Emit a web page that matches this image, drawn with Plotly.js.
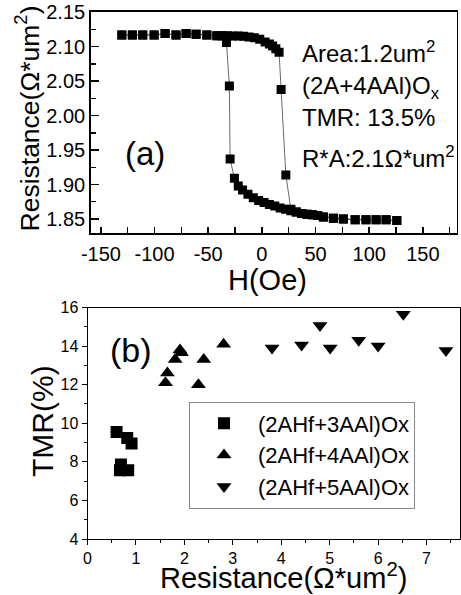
<!DOCTYPE html>
<html>
<head>
<meta charset="utf-8">
<script src="https://cdn.plot.ly/plotly-3.0.1.min.js"></script>
<style>html,body{margin:0;padding:0;background:#fff;}#chart{width:461px;height:595px;}</style>
</head>
<body>
<div id="chart"></div>
<script>
// ---- Panel (a): R-H loop, field increasing ----
var hUp = [-130.5,-120.7,-111,-100.4,-90.2,-80,-70.6,-61.3,-51.3,-42,-37,-32,-27,-22,-17,-12,-7,-2,3,7,10,13,16,17.9,22.3,27,32,37,42,47,52,57.3,66.6,75.9,86.9,97,106.4,115.7,125.7];
var rUp = [2.117,2.117,2.117,2.117,2.119,2.117,2.119,2.118,2.117,2.116,2.116,2.116,2.1155,2.1155,2.115,2.114,2.113,2.111,2.107,2.104,2.101,2.097,2.092,2.038,1.914,1.864,1.860,1.858,1.857,1.856,1.855,1.853,1.851,1.850,1.849,1.849,1.849,1.849,1.848];
// ---- Panel (a): field decreasing ----
var hDown = [125.7,115.7,106.4,97,86.9,75.9,66.6,57.3,52,47,42,37,32,27,22,17,12,7,2,-3,-8,-13,-18,-22,-25.6,-29.6,-30.3,-33,-37,-42,-51.3,-61.3,-70.6,-80,-90.2,-100.4,-111,-120.7,-130.5];
var rDown = [1.848,1.849,1.849,1.849,1.849,1.850,1.851,1.853,1.855,1.856,1.857,1.858,1.860,1.862,1.864,1.866,1.869,1.871,1.874,1.877,1.881,1.886,1.892,1.898,1.909,1.937,2.043,2.106,2.116,2.116,2.117,2.118,2.119,2.117,2.119,2.117,2.117,2.117,2.117];

// ---- Panel (b): TMR vs resistance ----
var seriesNames = ['(2AHf+3AAl)Ox','(2AHf+4AAl)Ox','(2AHf+5AAl)Ox'];
var res3 = [0.60,0.82,0.91,0.69,0.67,0.84];
var tmr3 = [9.55,9.24,8.95,7.86,7.57,7.57];
var res4 = [1.61,1.65,1.81,1.91,1.94,2.29,2.40,2.81];
var tmr4 = [12.1,12.6,13.3,13.8,13.65,12.0,13.3,14.1];
var res5 = [3.81,4.42,4.80,5.01,5.60,6.00,6.52,7.40];
var tmr5 = [13.9,14.05,15.07,13.9,14.3,14.0,15.65,13.77];

// tick labels / texts
var xTicksA = [-150,-100,-50,0,50,100,150];
var yTicksB = [4,6,8,10,12,14,16];

var W = 461, H = 595;
function px(x){return x/W;}
function py(y){return 1 - y/H;}
var FONT = 'Liberation Sans, Arial, Helvetica, sans-serif';

var lineA = {color:'#444', width:0.8};
var traces = [
  {x:hUp, y:rUp, xaxis:'x', yaxis:'y', mode:'lines+markers', showlegend:false,
   line:lineA, marker:{symbol:'square', size:9, color:'#000'}},
  {x:hDown, y:rDown, xaxis:'x', yaxis:'y', mode:'lines+markers', showlegend:false,
   line:lineA, marker:{symbol:'square', size:9, color:'#000'}},
  {x:res3, y:tmr3, xaxis:'x2', yaxis:'y2', mode:'markers', name:seriesNames[0],
   marker:{symbol:'square', size:12, color:'#000'}},
  {x:res4, y:tmr4, xaxis:'x2', yaxis:'y2', mode:'markers', name:seriesNames[1],
   marker:{symbol:'triangle-up', size:13, color:'#000'}},
  {x:res5, y:tmr5, xaxis:'x2', yaxis:'y2', mode:'markers', name:seriesNames[2],
   marker:{symbol:'triangle-down', size:13, color:'#000'}}
];

var layout = {
  width:W, height:H,
  margin:{l:0,r:0,t:0,b:0,pad:0},
  paper_bgcolor:'#fff', plot_bgcolor:'#fff',
  font:{family:FONT, color:'#000'},
  showlegend:true,
  legend:{x:px(189), y:py(401.5), xanchor:'left', yanchor:'top',
    bgcolor:'#fff', bordercolor:'#888', borderwidth:1,
    font:{family:FONT, size:22, color:'#000'}, itemwidth:58, tracegroupgap:0},
  xaxis:{domain:[px(90.7), px(456.7)], anchor:'y', range:[-159.5,181.5],
    tickmode:'array', tickvals:xTicksA, ticktext:xTicksA.map(String),
    ticks:'inside', ticklen:6, tickwidth:1.5, tickcolor:'#000',
    minor:{dtick:25, tick0:0, ticks:'inside', ticklen:6, tickwidth:1.3, tickcolor:'#000', showgrid:false},
    showline:true, linewidth:1.5, linecolor:'#000', mirror:true,
    showgrid:false, zeroline:false, ticklabelstandoff:2,
    tickfont:{family:FONT, size:20, color:'#000'}},
  yaxis:{domain:[py(233), py(11.7)], anchor:'x', range:[1.8297,2.1508],
    dtick:0.05, tick0:0, tickformat:'.2f',
    ticks:'inside', ticklen:8, tickwidth:1.5, tickcolor:'#000',
    minor:{dtick:0.025, tick0:0, ticks:'inside', ticklen:5, tickwidth:1.3, tickcolor:'#000', showgrid:false},
    showline:true, linewidth:1.5, linecolor:'#000', mirror:true,
    showgrid:false, zeroline:false,
    tickfont:{family:FONT, size:20, color:'#000'}},
  xaxis2:{domain:[px(87.5), px(459.5)], anchor:'y2', range:[0,7.68],
    dtick:1, tick0:0,
    ticks:'outside', ticklen:5, tickwidth:1, tickcolor:'#000',
    minor:{dtick:0.5, tick0:0, ticks:'outside', ticklen:3, tickwidth:1, tickcolor:'#000', showgrid:false},
    showline:true, linewidth:1, linecolor:'#000', mirror:true,
    showgrid:false, zeroline:false,
    tickfont:{family:FONT, size:16, color:'#000'}},
  yaxis2:{domain:[py(539), py(307.5)], anchor:'x2', range:[4,16],
    tickmode:'array', tickvals:yTicksB, ticktext:yTicksB.map(String),
    ticks:'outside', ticklen:5, tickwidth:1, tickcolor:'#000',
    minor:{dtick:1, tick0:0, ticks:'outside', ticklen:3, tickwidth:1, tickcolor:'#000', showgrid:false},
    showline:true, linewidth:1, linecolor:'#000', mirror:true,
    showgrid:false, zeroline:false,
    tickfont:{family:FONT, size:16, color:'#000'}},
  annotations:[
    {text:'Resistance(Ω*um<sup>2</sup>)', xref:'paper', yref:'paper', x:px(27.5), y:py(119), textangle:-90,
     showarrow:false, xanchor:'center', yanchor:'middle', font:{family:FONT, size:26.5, color:'#000'}},
    {text:'H(Oe)', xref:'paper', yref:'paper', x:px(267), y:py(280),
     showarrow:false, xanchor:'center', yanchor:'middle', font:{family:FONT, size:29, color:'#000'}},
    {text:'Area:1.2um<sup>2</sup>', xref:'paper', yref:'paper', x:px(300), y:py(52),
     showarrow:false, xanchor:'left', yanchor:'middle', font:{family:FONT, size:24, color:'#000'}},
    {text:'(2A+4AAl)O<sub>x</sub>', xref:'paper', yref:'paper', x:px(300), y:py(87),
     showarrow:false, xanchor:'left', yanchor:'middle', font:{family:FONT, size:24, color:'#000'}},
    {text:'TMR: 13.5%', xref:'paper', yref:'paper', x:px(300), y:py(118),
     showarrow:false, xanchor:'left', yanchor:'middle', font:{family:FONT, size:24, color:'#000'}},
    {text:'R*A:2.1Ω*um<sup>2</sup>', xref:'paper', yref:'paper', x:px(300), y:py(157),
     showarrow:false, xanchor:'left', yanchor:'middle', font:{family:FONT, size:24, color:'#000'}},
    {text:'(a)', xref:'paper', yref:'paper', x:px(145), y:py(154),
     showarrow:false, xanchor:'center', yanchor:'middle', font:{family:FONT, size:33, color:'#000'}},
    {text:'(b)', xref:'paper', yref:'paper', x:px(131), y:py(350),
     showarrow:false, xanchor:'center', yanchor:'middle', font:{family:FONT, size:34, color:'#000'}},
    {text:'TMR(%)', xref:'paper', yref:'paper', x:px(42), y:py(421), textangle:-90,
     showarrow:false, xanchor:'center', yanchor:'middle', font:{family:FONT, size:30, color:'#000'}},
    {text:'Resistance(Ω*um<sup>2</sup>)', xref:'paper', yref:'paper', x:px(283), y:py(576),
     showarrow:false, xanchor:'center', yanchor:'middle', font:{family:FONT, size:29, color:'#000'}}
  ]
};

Plotly.newPlot('chart', traces, layout, {displayModeBar:false, staticPlot:true});
</script>
</body>
</html>
